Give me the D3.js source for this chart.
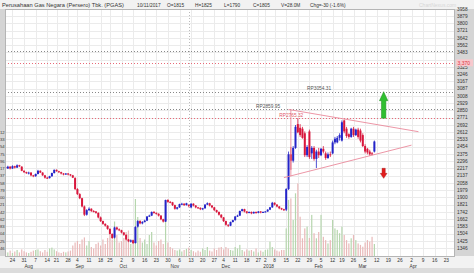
<!DOCTYPE html>
<html>
<head>
<script src="https://d3js.org/d3.v7.min.js"></script>
<style>
  body { margin: 0; background: #fff; }
  svg text { font-family: "Liberation Sans", Arial, sans-serif; fill: #333; }
</style>
</head>
<body>
<svg id="chart" width="474" height="273"></svg>
<script>
// trading calendar
var firstDay = '2017-07-19';
var lastDay = '2018-05-04';
var holidays = ['2017-08-17', '2017-09-01', '2017-09-21', '2017-12-01', '2017-12-25',
  '2017-12-26', '2018-01-01', '2018-02-16'];

// daily PGAS prices, one entry per trading day from 19 Jul 2017
var opens = [2230,2215,2235,2215,2240,2225,2250,2235,2190,2175,2160,2170,2140,2130,2155,2190,2170,2140,2115,2110,
  2130,2165,2200,2185,2175,2160,2150,2160,2150,2140,2110,1990,1935,1890,1800,1710,1760,1775,1750,1745,
  1730,1680,1640,1610,1590,1555,1500,1460,1570,1550,1540,1515,1490,1440,1415,1430,1400,1580,1640,1615,
  1630,1645,1690,1700,1740,1730,1720,1700,1660,1635,1870,1850,1845,1815,1775,1790,1825,1830,1815,1815,
  1790,1830,1810,1790,1785,1770,1780,1820,1835,1810,1790,1760,1740,1710,1680,1640,1600,1590,1630,1650,
  1690,1700,1750,1770,1745,1730,1740,1725,1740,1730,1745,1735,1740,1745,1765,1790,1840,1820,1800,1780,
  1770,1765,1990,2370,2300,2440,2700,2660,2650,2600,2360,2620,2380,2440,2320,2400,2360,2430,2380,2330,
  2370,2380,2500,2500,2550,2520,2740,2650,2590,2560,2650,2580,2640,2630,2580,2460,2430,2400,2380,2400];
var highs = [2240,2245,2240,2250,2245,2260,2255,2240,2195,2180,2180,2175,2145,2160,2200,2195,2175,2145,2125,2135,
  2170,2205,2205,2190,2180,2165,2165,2165,2155,2145,2120,2000,1945,1895,1810,1770,1790,1780,1760,1750,
  1735,1690,1645,1615,1595,1560,1505,1580,1580,1560,1545,1520,1495,1445,1440,1435,1585,1650,1650,1640,
  1655,1695,1710,1745,1750,1735,1725,1705,1665,1875,1880,1860,1850,1820,1795,1830,1840,1835,1840,1825,
  1835,1835,1815,1795,1790,1785,1825,1845,1840,1815,1795,1765,1745,1715,1685,1645,1605,1635,1655,1695,
  1710,1755,1775,1775,1750,1745,1745,1745,1745,1750,1750,1745,1750,1770,1795,1850,1845,1825,1805,1785,
  1775,2000,2400,2450,2460,2690,2765,2700,2670,2620,2470,2640,2460,2460,2420,2440,2440,2460,2400,2390,
  2400,2520,2560,2570,2600,2740,2750,2670,2600,2660,2670,2650,2660,2650,2600,2480,2440,2420,2395,2520];
var lows = [2210,2210,2205,2210,2215,2220,2230,2185,2165,2155,2150,2130,2120,2125,2150,2165,2135,2105,2100,2105,
  2125,2160,2180,2165,2150,2140,2145,2140,2130,2110,1980,1925,1880,1790,1695,1700,1750,1740,1735,1720,
  1670,1630,1600,1580,1545,1495,1445,1450,1540,1530,1505,1480,1430,1410,1405,1390,1395,1570,1605,1605,
  1625,1640,1685,1695,1720,1710,1690,1650,1625,1630,1840,1835,1805,1765,1765,1785,1815,1805,1810,1790,
  1780,1800,1780,1775,1760,1760,1775,1815,1800,1780,1750,1730,1700,1670,1630,1590,1575,1585,1625,1645,
  1685,1695,1745,1735,1720,1725,1715,1720,1720,1725,1725,1730,1735,1740,1760,1785,1810,1790,1770,1760,
  1750,1750,1980,2200,2280,2430,2600,2560,2540,2340,2340,2320,2320,2300,2220,2330,2350,2380,2310,2320,
  2340,2370,2480,2490,2520,2510,2600,2550,2540,2550,2560,2570,2540,2500,2450,2380,2370,2355,2360,2390];
var closes = [2220,2235,2215,2240,2225,2250,2240,2190,2175,2165,2170,2140,2130,2155,2190,2170,2140,2115,2110,2130,
  2165,2200,2185,2175,2160,2150,2160,2150,2140,2115,1990,1935,1890,1800,1710,1760,1775,1750,1745,1730,
  1680,1640,1610,1590,1555,1500,1455,1570,1550,1540,1515,1490,1440,1420,1430,1400,1575,1640,1615,1630,
  1645,1690,1700,1740,1730,1720,1700,1660,1635,1870,1850,1845,1815,1775,1790,1825,1830,1815,1835,1805,
  1830,1810,1790,1785,1770,1780,1820,1835,1810,1790,1760,1740,1710,1680,1640,1600,1590,1630,1650,1690,
  1700,1750,1770,1745,1730,1740,1725,1740,1730,1745,1735,1740,1745,1765,1790,1840,1820,1800,1780,1770,
  1760,1990,2370,2300,2440,2670,2610,2580,2550,2360,2450,2340,2440,2320,2400,2360,2430,2400,2330,2370,
  2360,2500,2540,2550,2580,2720,2620,2570,2560,2650,2580,2640,2560,2520,2460,2400,2390,2370,2370,2510];
// volume in millions of shares
var volumes = [14,12,18,10,15,20,12,22,16,12,10,14,18,20,22,16,12,20,14,25,
  28,22,16,12,10,14,12,15,18,35,45,50,40,55,62,35,50,30,25,40,
  45,35,55,40,60,80,55,115,70,45,50,60,80,85,40,55,190,130,60,45,
  55,40,70,80,45,35,50,55,40,185,45,30,25,20,18,22,15,20,24,28,
  20,16,12,18,14,25,20,30,18,15,25,20,28,30,22,30,25,20,18,30,
  25,37,20,15,22,18,20,15,25,12,18,14,20,22,48,30,22,18,15,20,
  20,92,187,192,120,209,242,131,59,92,98,60,137,76,59,80,137,64,53,42,
  53,120,92,87,76,98,70,53,42,59,70,53,42,37,31,45,53,48,64,40];

var priceTicks = [3958,3879,3800,3721,3642,3562,3483,3404,3325,3246,3167,3087,3008,2929,2850,2771,2692,2612,
  2533,2454,2375,2296,2217,2137,2058,1979,1900,1821,1742,1662,1583,1504,1425,1346];

// support / resistance levels
var greyLevels = [3500, 3054.31, 2859.95];
var redLevels = [3370, 2765.32];
var levelLabels = [['2018-01-26', 3054.31, 'RP3054.31', '#555'], ['2017-12-22', 2859.95, 'RP2859.95', '#555'],
  ['2018-01-10', 2765.32, 'RP2765.32', '#e05a6a']];
// triangle
var upperLine = [['2018-01-16', 2860], ['2018-04-05', 2617]];
var lowerLine = [['2018-01-12', 2115], ['2018-04-02', 2470]];
var sideLine = [['2018-01-17', 2860], ['2018-01-17', 2130]];
var upArrow = ['2018-03-15', 2765.32, 3054.31];
var downArrow = ['2018-03-15', 2217, 2107];
var cursorDay = '2017-11-10';

var header = [['Perusahaan Gas Negara (Persero) Tbk. (PGAS)', 2], ['10/11/2017', 137], ['O=1815', 167],
  ['H=1825', 195], ['L=1790', 224], ['C=1805', 253], ['V=28.0M', 281], ['Chg=-30 (-1.6%)', 310]];

var W = 474, H = 273;
var pLeft = 5, pRight = 455, pTop = 9, pBottom = 256;
var svg = d3.select('#chart');

var parse = d3.timeParse('%Y-%m-%d'), fmt = d3.timeFormat('%Y-%m-%d');
var holidaySet = new Set(holidays);
var days = d3.timeDay.range(parse(firstDay), d3.timeDay.offset(parse(lastDay), 1))
  .filter(function (d) {
    var w = d.getDay();
    return w > 0 && w < 6 && !holidaySet.has(fmt(d));
  });
var dayIndex = new Map(days.map(function (d, i) { return [fmt(d), i]; }));

var x = d3.scaleLinear().domain([0, 190]).range([5.5, 446.3]);
var xd = function (s) { return x(dayIndex.get(s)); };
var y = d3.scaleLinear().domain([1346, 3958]).range([248, 9]);
var yVol = d3.scaleLinear().domain([0, 250]).range([pBottom, pBottom - 75]);

// backgrounds
svg.append('rect').attr('width', W).attr('height', H).attr('fill', '#f2f2f2');
svg.append('rect').attr('x', pLeft).attr('y', pTop).attr('width', pRight - pLeft).attr('height', pBottom - pTop)
  .attr('fill', '#fff');
svg.append('rect').attr('x', pRight).attr('y', pTop).attr('width', W - pRight).attr('height', pBottom - pTop)
  .attr('fill', '#d5d5d5');
svg.append('rect').attr('x', 0).attr('y', pTop).attr('width', pLeft).attr('height', pBottom - pTop)
  .attr('fill', '#d5d5d5');
svg.append('rect').attr('x', 0).attr('y', 268).attr('width', W).attr('height', 5).attr('fill', '#dcdcdc');

svg.append('defs').append('clipPath').attr('id', 'plot').append('rect')
  .attr('x', pLeft).attr('y', pTop).attr('width', pRight - pLeft).attr('height', pBottom - pTop);
var plot = svg.append('g').attr('clip-path', 'url(#plot)');

// week ticks: first trading day of each week
var weekTicks = days.map(function (d, i) { return i; }).filter(function (i) {
  return i > 0 && +d3.timeMonday.floor(days[i]) !== +d3.timeMonday.floor(days[i - 1]) && x(i) < pRight - 4;
});
var monthTicks = days.map(function (d, i) { return i; }).filter(function (i) {
  return i > 0 && days[i].getMonth() !== days[i - 1].getMonth() && x(i) < pRight - 4;
});

// grid
plot.selectAll('.hg').data(priceTicks).enter().append('line')
  .attr('x1', pLeft).attr('x2', pRight)
  .attr('y1', function (d) { return Math.round(y(d)) + 0.5; })
  .attr('y2', function (d) { return Math.round(y(d)) + 0.5; })
  .attr('stroke', '#ebebeb').attr('stroke-width', 1);
plot.selectAll('.vg').data(weekTicks).enter().append('line')
  .attr('x1', function (i) { return Math.round(x(i)) + 0.5; })
  .attr('x2', function (i) { return Math.round(x(i)) + 0.5; })
  .attr('y1', pTop).attr('y2', pBottom)
  .attr('stroke', '#ebebeb').attr('stroke-width', 1);

// cursor line
plot.append('line')
  .attr('x1', Math.round(xd(cursorDay)) + 0.5).attr('x2', Math.round(xd(cursorDay)) + 0.5)
  .attr('y1', pTop).attr('y2', pBottom)
  .attr('stroke', '#bbb').attr('stroke-dasharray', '1,2');

// levels
plot.selectAll('.gl').data(greyLevels).enter().append('line')
  .attr('x1', pLeft).attr('x2', pRight)
  .attr('y1', function (d) { return Math.round(y(d)) + 0.5; })
  .attr('y2', function (d) { return Math.round(y(d)) + 0.5; })
  .attr('stroke', '#888').attr('stroke-dasharray', '1,2');
plot.selectAll('.rl').data(redLevels).enter().append('line')
  .attr('x1', pLeft).attr('x2', pRight)
  .attr('y1', function (d) { return Math.round(y(d)) + 0.5; })
  .attr('y2', function (d) { return Math.round(y(d)) + 0.5; })
  .attr('stroke', '#e86a78').attr('stroke-dasharray', '1,2');

// volume
var up = function (i) { return closes[i] >= opens[i]; };
plot.selectAll('.vol').data(volumes).enter().append('rect')
  .attr('x', function (d, i) { return x(i) - 0.6; })
  .attr('y', function (d) { return yVol(d); })
  .attr('width', 1.2)
  .attr('height', function (d) { return pBottom - yVol(d); })
  .attr('fill', function (d, i) { return up(i) ? '#b6d6ae' : '#e9b9b9'; });

// candles
var candle = plot.selectAll('.c').data(closes).enter().append('g');
candle.append('line')
  .attr('x1', function (d, i) { return x(i); })
  .attr('x2', function (d, i) { return x(i); })
  .attr('y1', function (d, i) { return y(highs[i]); })
  .attr('y2', function (d, i) { return y(lows[i]); })
  .attr('stroke', function (d, i) { return up(i) ? '#2424c8' : '#d8163c'; })
  .attr('stroke-width', 0.8);
candle.append('rect')
  .attr('x', function (d, i) { return x(i) - 1; })
  .attr('y', function (d, i) { return y(Math.max(opens[i], d)); })
  .attr('width', 2)
  .attr('height', function (d, i) { return Math.max(1, Math.abs(y(opens[i]) - y(d))); })
  .attr('fill', function (d, i) { return up(i) ? '#2424c8' : '#d8163c'; });

// triangle
var tri = d3.line().x(function (p) { return xd(p[0]); }).y(function (p) { return y(p[1]); });
[upperLine, lowerLine, sideLine].forEach(function (l) {
  plot.append('path').attr('d', tri(l)).attr('fill', 'none')
    .attr('stroke', '#ea8a9c').attr('stroke-width', 0.9);
});

// level labels
plot.selectAll('.ll').data(levelLabels).enter().append('text')
  .attr('x', function (d) { return xd(d[0]); })
  .attr('y', function (d) { return y(d[1]) - 1.5; })
  .attr('font-size', 4.8)
  .style('fill', function (d) { return d[3]; })
  .text(function (d) { return d[2]; });

// arrows
var ax = xd(upArrow[0]), ab = y(upArrow[1]), at = y(upArrow[2]);
plot.append('path')
  .attr('d', 'M' + (ax - 2.2) + ',' + ab + 'V' + (at + 9) + 'H' + (ax - 4.2) + 'L' + ax + ',' + at +
    'L' + (ax + 4.2) + ',' + (at + 9) + 'H' + (ax + 2.2) + 'V' + ab + 'Z')
  .attr('fill', '#2fbf2f').attr('stroke', '#1c8a1c').attr('stroke-width', 0.5);
var dx = xd(downArrow[0]), dt = y(downArrow[1]), db = y(downArrow[2]);
plot.append('path')
  .attr('d', 'M' + (dx - 1.6) + ',' + dt + 'V' + (db - 5) + 'H' + (dx - 3.4) + 'L' + dx + ',' + db +
    'L' + (dx + 3.4) + ',' + (db - 5) + 'H' + (dx + 1.6) + 'V' + dt + 'Z')
  .attr('fill', '#e21c1c').attr('stroke', '#a01010').attr('stroke-width', 0.4);

// plot frame
svg.append('rect').attr('x', pLeft + 0.5).attr('y', pTop + 0.5).attr('width', pRight - pLeft - 1)
  .attr('height', pBottom - pTop).attr('fill', 'none').attr('stroke', '#b5b5b5');

// right price axis (the tick under the current level tag is hidden)
svg.selectAll('.yl').data(priceTicks.filter(function (d) { return Math.abs(y(d) - y(redLevels[0])) > 4; }))
  .enter().append('text')
  .attr('x', pRight + 2).attr('y', function (d) { return y(d) + 1.8; })
  .attr('font-size', 4.8).text(function (d) { return d; });
// left axis: only the last digits are visible in the narrow strip
svg.selectAll('.yl2').data(priceTicks.filter(function (d) { return d <= 2612; })).enter().append('text')
  .attr('x', 4.6).attr('y', function (d) { return y(d) + 1.8; })
  .attr('text-anchor', 'end').attr('font-size', 4.2)
  .text(function (d) { return String(d).slice(-2); });
// current level tag
svg.append('rect').attr('x', pRight + 1).attr('y', y(redLevels[0]) - 3.5).attr('width', 17).attr('height', 7)
  .attr('fill', '#f7c9cd');
svg.append('text').attr('x', pRight + 2.5).attr('y', y(redLevels[0]) + 2).attr('font-size', 5)
  .style('fill', '#e0303c').text(d3.format(',')(redLevels[0]));

// x axis labels
svg.selectAll('.xl').data(weekTicks).enter().append('text')
  .attr('x', function (i) { return x(i); }).attr('y', 262)
  .attr('text-anchor', 'middle').attr('font-size', 4.8)
  .text(function (i) { return days[i].getDate(); });
svg.selectAll('.ml').data(monthTicks).enter().append('text')
  .attr('x', function (i) { return x(i) - 2; }).attr('y', 267.5)
  .attr('font-size', 4.8)
  .text(function (i) { return days[i].getMonth() === 0 ? days[i].getFullYear() : d3.timeFormat('%b')(days[i]); });

// header
svg.selectAll('.hd').data(header).enter().append('text')
  .attr('x', function (d) { return d[1]; }).attr('y', 7)
  .attr('font-size', function (d, i) { return i === 0 ? 5.7 : 4.8; })
  .text(function (d) { return d[0]; });
svg.append('text').attr('x', 419).attr('y', 7).attr('font-size', 5)
  .style('fill', '#d6d6d6').text('ChartNexus.com');
</script>
</body>
</html>
